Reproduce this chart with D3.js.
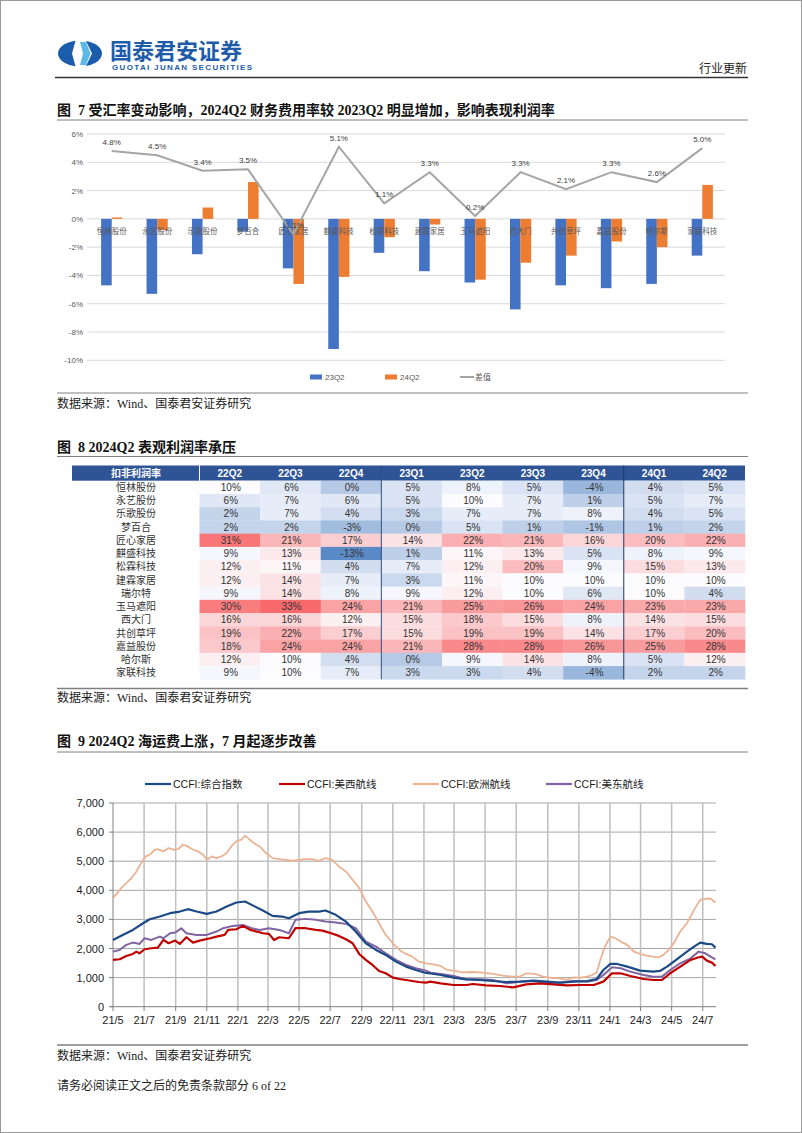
<!DOCTYPE html>
<html><head><meta charset="utf-8">
<script src="https://cdn.jsdelivr.net/npm/d3@7"></script>
<style>
body{margin:0;background:#fff;}
svg{display:block;}
</style></head><body>
<svg id="page" width="802" height="1133"></svg>
<script>
// ---------- Figure 7 data ----------
const companies7 = ["恒林股份","永艺股份","乐歌股份","梦百合","匠心家居","麒盛科技","松霖科技","建霖家居","玉马遮阳","西大门","共创草坪","嘉益股份","哈尔斯","家联科技"];
const fin23Q2 = [-4.7,-5.3,-2.5,-0.9,-3.5,-9.2,-2.4,-3.7,-4.5,-6.4,-4.7,-4.9,-4.6,-2.6];
const fin24Q2 = [0.1,-0.8,0.8,2.6,-4.6,-4.1,-1.3,-0.4,-4.3,-3.1,-2.6,-1.6,-2.0,2.4];
const finDiff = [4.8,4.5,3.4,3.5,-1.1,5.1,1.1,3.3,0.2,3.3,2.1,3.3,2.6,5.0];
const yTicks7 = [6,4,2,0,-2,-4,-6,-8,-10];
const series7 = ["23Q2","24Q2","差值"];

// ---------- Figure 8 data ----------
const companies8 = ["恒林股份","永艺股份","乐歌股份","梦百合","匠心家居","麒盛科技","松霖科技","建霖家居","瑞尔特","玉马遮阳","西大门","共创草坪","嘉益股份","哈尔斯","家联科技"];
const quarters8 = ["22Q2","22Q3","22Q4","23Q1","23Q2","23Q3","23Q4","24Q1","24Q2"];
const margins8 = [
  [10,6,0,5,8,5,-4,4,5],
  [6,7,6,5,10,7,1,5,7],
  [2,7,4,3,7,7,8,4,5],
  [2,2,-3,0,5,1,-1,1,2],
  [31,21,17,14,22,21,16,20,22],
  [9,13,-13,1,11,13,5,8,9],
  [12,11,4,7,12,20,9,15,13],
  [12,14,7,3,11,10,10,10,10],
  [9,14,8,9,12,10,6,10,4],
  [30,33,24,21,25,26,24,23,23],
  [16,16,12,15,18,15,8,14,15],
  [19,22,17,15,19,19,14,17,20],
  [18,24,24,21,28,28,26,25,28],
  [12,10,4,0,9,14,8,5,12],
  [9,10,7,3,3,4,-4,2,2]
];

// ---------- Figure 9 data (CCFI) ----------
const ccfiNames = ["CCFI:综合指数","CCFI:美西航线","CCFI:欧洲航线","CCFI:美东航线"];
const yTicks9 = [0,1000,2000,3000,4000,5000,6000,7000];
const ccfiComposite = [
["2021-05-01",2295],["2021-05-20",2467],["2021-06-09",2639],["2021-06-29",2869],["2021-07-12",3006],["2021-08-01",3098],["2021-08-21",3213],["2021-09-09",3270],["2021-09-25",3351],["2021-10-12",3270],["2021-11-01",3190],["2021-11-20",3270],["2021-12-10",3443],["2021-12-29",3580],["2022-01-15",3615],["2022-02-01",3465],["2022-02-19",3305],["2022-03-10",3121],["2022-03-29",3098],["2022-04-11",3041],["2022-05-01",3213],["2022-05-20",3270],["2022-06-09",3270],["2022-06-22",3305],["2022-07-12",3156],["2022-08-01",2926],["2022-08-20",2582],["2022-09-09",2180],["2022-09-29",1951],["2022-10-18",1779],["2022-11-07",1549],["2022-11-27",1377],["2022-12-16",1262],["2023-01-05",1160],["2023-01-14",1140],["2023-02-03",1090],["2023-02-28",998],["2023-03-25",941],["2023-04-20",918],["2023-05-16",884],["2023-06-12",849],["2023-07-08",861],["2023-08-04",895],["2023-08-30",861],["2023-09-25",826],["2023-10-21",861],["2023-11-17",884],["2023-12-06",952],["2023-12-19",1262],["2024-01-02",1469],["2024-01-15",1469],["2024-02-04",1377],["2024-02-29",1239],["2024-03-26",1205],["2024-04-08",1228],["2024-04-22",1377],["2024-05-11",1630],["2024-05-31",1893],["2024-06-14",2066],["2024-06-26",2203],["2024-07-09",2157],["2024-07-19",2146],["2024-07-26",2031]
];
const ccfiUSWest = [
["2021-05-01",1607],["2021-05-14",1630],["2021-05-27",1744],["2021-06-09",1813],["2021-06-16",1893],["2021-06-22",1836],["2021-07-02",1974],["2021-07-15",2008],["2021-07-28",2031],["2021-08-08",2295],["2021-08-18",2180],["2021-08-31",2272],["2021-09-09",2157],["2021-09-22",2387],["2021-10-05",2203],["2021-10-18",2272],["2021-11-08",2352],["2021-11-20",2410],["2021-12-06",2467],["2021-12-13",2639],["2021-12-29",2662],["2022-01-11",2777],["2022-01-25",2639],["2022-02-07",2582],["2022-02-19",2524],["2022-03-03",2502],["2022-03-13",2295],["2022-03-23",2387],["2022-04-11",2352],["2022-04-24",2697],["2022-05-14",2697],["2022-06-03",2639],["2022-06-16",2616],["2022-06-29",2547],["2022-07-18",2433],["2022-08-01",2318],["2022-08-14",2180],["2022-08-27",1813],["2022-09-09",1607],["2022-09-22",1434],["2022-10-05",1228],["2022-10-18",1148],["2022-11-01",998],["2022-11-14",952],["2022-11-27",918],["2022-12-09",884],["2022-12-22",849],["2023-01-05",826],["2023-01-14",861],["2023-02-03",803],["2023-02-28",746],["2023-03-25",746],["2023-04-07",780],["2023-05-03",734],["2023-05-30",711],["2023-06-25",666],["2023-07-21",769],["2023-08-17",803],["2023-09-12",769],["2023-10-08",734],["2023-11-04",746],["2023-11-30",746],["2023-12-19",861],["2024-01-05",1148],["2024-01-22",1148],["2024-02-10",1056],["2024-03-07",952],["2024-03-26",918],["2024-04-12",918],["2024-04-28",1148],["2024-05-18",1377],["2024-06-07",1607],["2024-06-23",1698],["2024-06-30",1721],["2024-07-09",1584],["2024-07-19",1515],["2024-07-26",1400]
];
const ccfiEurope = [
["2021-05-01",3729],["2021-05-17",4074],["2021-05-27",4246],["2021-06-06",4418],["2021-06-16",4647],["2021-06-25",4934],["2021-07-04",5164],["2021-07-12",5221],["2021-07-22",5393],["2021-07-28",5416],["2021-08-08",5336],["2021-08-18",5450],["2021-08-28",5393],["2021-09-06",5416],["2021-09-15",5565],["2021-09-25",5508],["2021-10-05",5393],["2021-10-15",5336],["2021-10-25",5221],["2021-11-01",5049],["2021-11-11",5164],["2021-11-20",5106],["2021-11-30",5164],["2021-12-10",5279],["2021-12-19",5508],["2021-12-29",5680],["2022-01-08",5738],["2022-01-15",5875],["2022-01-21",5795],["2022-02-01",5623],["2022-02-13",5508],["2022-02-25",5279],["2022-03-10",5106],["2022-03-23",5072],["2022-04-05",5049],["2022-04-18",5015],["2022-05-01",5049],["2022-05-14",5072],["2022-05-27",5072],["2022-06-09",5015],["2022-06-22",5106],["2022-07-05",5049],["2022-07-18",4820],["2022-08-01",4647],["2022-08-14",4361],["2022-08-27",4074],["2022-09-09",3615],["2022-09-22",3270],["2022-10-05",2869],["2022-10-18",2467],["2022-11-01",2180],["2022-11-14",1951],["2022-11-27",1813],["2022-12-09",1721],["2022-12-22",1549],["2023-01-05",1492],["2023-01-14",1469],["2023-02-03",1400],["2023-02-15",1262],["2023-02-28",1239],["2023-03-18",1182],["2023-04-07",1193],["2023-04-27",1170],["2023-05-16",1125],["2023-06-05",1067],["2023-06-25",1033],["2023-07-08",1033],["2023-07-21",1148],["2023-08-07",1125],["2023-08-23",1033],["2023-09-09",987],["2023-09-25",975],["2023-10-08",918],["2023-10-21",1010],["2023-11-04",998],["2023-11-17",1033],["2023-11-27",1090],["2023-12-06",1170],["2023-12-13",1607],["2023-12-22",2066],["2024-01-02",2410],["2024-01-12",2352],["2024-01-22",2238],["2024-02-04",2123],["2024-02-17",1893],["2024-02-29",1813],["2024-03-13",1756],["2024-03-26",1721],["2024-04-05",1698],["2024-04-15",1779],["2024-04-25",1951],["2024-05-05",2180],["2024-05-18",2582],["2024-05-31",2869],["2024-06-14",3328],["2024-06-26",3672],["2024-07-06",3706],["2024-07-16",3718],["2024-07-26",3580]
];
const ccfiUSEast = [
["2021-05-01",1893],["2021-05-14",1951],["2021-05-27",2123],["2021-06-09",2203],["2021-06-22",2157],["2021-07-02",2352],["2021-07-15",2295],["2021-08-01",2410],["2021-08-08",2352],["2021-08-21",2524],["2021-08-31",2547],["2021-09-12",2697],["2021-09-22",2524],["2021-10-12",2467],["2021-11-01",2467],["2021-11-20",2582],["2021-12-03",2697],["2021-12-22",2777],["2022-01-11",2811],["2022-01-28",2697],["2022-02-13",2639],["2022-03-03",2697],["2022-03-23",2639],["2022-04-11",2524],["2022-04-24",2984],["2022-05-14",3018],["2022-06-03",2984],["2022-06-22",2926],["2022-07-12",2892],["2022-08-01",2846],["2022-08-20",2697],["2022-09-09",2238],["2022-09-29",2066],["2022-10-18",1836],["2022-11-07",1607],["2022-11-27",1434],["2022-12-16",1320],["2023-01-05",1239],["2023-01-14",1170],["2023-02-03",1125],["2023-02-28",1056],["2023-03-25",941],["2023-04-20",941],["2023-05-16",918],["2023-06-12",803],["2023-07-08",861],["2023-08-04",884],["2023-08-30",826],["2023-09-25",826],["2023-10-21",884],["2023-11-17",861],["2023-12-06",918],["2023-12-19",1090],["2024-01-05",1354],["2024-01-22",1320],["2024-02-10",1205],["2024-03-07",1090],["2024-03-26",1033],["2024-04-12",1033],["2024-04-28",1262],["2024-05-18",1492],["2024-06-07",1664],["2024-06-23",1893],["2024-07-06",1836],["2024-07-19",1698],["2024-07-26",1630]
];

// ---------- drawing ----------
const svg = d3.select("#page");
const SANS = "'Liberation Sans', Arial, 'Noto Sans CJK SC', sans-serif";
const SERIF = "'Liberation Serif', 'Times New Roman', 'Noto Sans CJK SC', serif";
const BLUE = "#4472C4", ORANGE = "#ED7D31", GRAY = "#A5A5A5";

svg.append("rect").attr("width",802).attr("height",1133).attr("fill","#fff");
svg.append("rect").attr("x",0.5).attr("y",0.5).attr("width",801).attr("height",1132)
  .attr("fill","none").attr("stroke","#9a9a9a");

// header / logo
const logo = svg.append("g");
logo.append("ellipse").attr("cx",80).attr("cy",53.5).attr("rx",22).attr("ry",13).attr("fill","#1B5DAA");
logo.append("polygon").attr("points","76,39 85,39 92,53.5 85,68 76,68 72,53.5").attr("fill","#fff");
logo.append("polygon").attr("points","80,42 86,42 90.5,53.5 86,65 80,65 83,53.5").attr("fill","#5BB8E8");
svg.append("text").attr("x",110).attr("y",58.5).attr("font-size",22).attr("font-weight","bold")
  .attr("font-family","'Noto Sans CJK SC', sans-serif").attr("fill","#1E5CA9").text("国泰君安证券");
svg.append("text").attr("x",112).attr("y",70).attr("font-size",8).attr("font-weight","bold")
  .attr("font-family",SANS).attr("fill","#1E5CA9").attr("textLength",140).text("GUOTAI JUNAN SECURITIES");
svg.append("text").attr("x",747).attr("y",73).attr("text-anchor","end").attr("font-size",12)
  .attr("font-family","'Noto Sans CJK SC', sans-serif").attr("fill","#222").text("行业更新");
svg.append("line").attr("x1",55).attr("x2",748).attr("y1",77.5).attr("y2",77.5).attr("stroke","#333").attr("stroke-width",1.5);

function title(y, txt){
  svg.append("text").attr("x",57).attr("y",y).attr("font-size",14).attr("font-weight","bold")
    .attr("font-family",SERIF).attr("fill","#111").attr("xml:space","preserve").text(txt);
}
function rule(y, color, w){
  svg.append("line").attr("x1",57).attr("x2",748).attr("y1",y).attr("y2",y).attr("stroke",color||"#808080").attr("stroke-width",w||1);
}
function source(y, txt){
  svg.append("text").attr("x",57).attr("y",y).attr("font-size",12).attr("font-family",SERIF)
    .attr("fill","#222").text(txt || "数据来源：Wind、国泰君安证券研究");
}

// ---------- Figure 7 ----------
title(115, "图  7 受汇率变动影响，2024Q2 财务费用率较 2023Q2 明显增加，影响表现利润率");
rule(120);
const g7 = svg.append("g");
const x7 = d3.scaleBand().domain(companies7).range([89,725]);
const y7 = d3.scaleLinear().domain([-10,6]).range([360.3,134]);
const sub7 = d3.scaleBand().domain(series7.slice(0,2)).range([-10.6,10.6]);
g7.selectAll(".grid").data(yTicks7).join("line")
  .attr("x1",87).attr("x2",725).attr("y1",d=>y7(d)).attr("y2",d=>y7(d))
  .attr("stroke","#D9D9D9").attr("stroke-width",1);
g7.selectAll(".yl").data(yTicks7).join("text")
  .attr("x",83).attr("y",d=>y7(d)+3).attr("text-anchor","end").attr("font-size",8)
  .attr("font-family",SANS).attr("fill","#595959").text(d=>d+"%");
const barData = companies7.flatMap((c,i)=>[{c,s:"23Q2",v:fin23Q2[i]},{c,s:"24Q2",v:fin24Q2[i]}]);
g7.selectAll(".bar").data(barData).join("rect")
  .attr("x",d=>x7(d.c)+x7.bandwidth()/2+sub7(d.s))
  .attr("width",sub7.bandwidth())
  .attr("y",d=>y7(Math.max(0,d.v)))
  .attr("height",d=>Math.abs(y7(d.v)-y7(0)))
  .attr("fill",d=>d.s==="23Q2"?BLUE:ORANGE);
g7.selectAll(".cat").data(companies7).join("text")
  .attr("x",d=>x7(d)+x7.bandwidth()/2).attr("y",234).attr("text-anchor","middle")
  .attr("font-size",7.5).attr("font-family","'Noto Sans CJK SC', sans-serif").attr("fill","#595959").text(d=>d);
const line7 = d3.line().x((d,i)=>x7(companies7[i])+x7.bandwidth()/2).y(d=>y7(d));
g7.append("path").datum(finDiff).attr("d",line7).attr("fill","none").attr("stroke",GRAY).attr("stroke-width",2);
g7.selectAll(".dl").data(finDiff).join("text")
  .attr("x",(d,i)=>x7(companies7[i])+x7.bandwidth()/2).attr("y",d=>y7(d)-6).attr("text-anchor","middle")
  .attr("font-size",8).attr("font-family",SANS).attr("fill","#404040").text(d=>d.toFixed(1)+"%");
// legend
const leg7 = [{s:"23Q2",x:310,c:BLUE,t:"rect"},{s:"24Q2",x:385,c:ORANGE,t:"rect"},{s:"差值",x:460,c:GRAY,t:"line"}];
leg7.forEach(l=>{
  if(l.t==="rect") g7.append("rect").attr("x",l.x).attr("y",374.5).attr("width",12).attr("height",5).attr("fill",l.c);
  else g7.append("line").attr("x1",l.x).attr("x2",l.x+14).attr("y1",377).attr("y2",377).attr("stroke",l.c).attr("stroke-width",2);
  g7.append("text").attr("x",l.x+15).attr("y",380).attr("font-size",8).attr("font-family",SANS).attr("fill","#595959").text(l.s);
});
rule(393);
source(408);

// ---------- Figure 8 ----------
title(452, "图  8 2024Q2 表观利润率承压");
rule(456.5);
const g8 = svg.append("g");
const colX = d3.scaleBand().domain(quarters8).range([199.5,745]);
const rowY = d3.scaleBand().domain(companies8).range([480.7,679.3]);
const allVals = margins8.flat();
const color8 = d3.scaleLinear()
  .domain([d3.min(allVals), d3.median(allVals), d3.max(allVals)])
  .range(["#5A8AC6","#FCFCFF","#F8696B"]);
const HEAD = "#2F5496";
g8.append("rect").attr("x",72).attr("y",465.5).attr("width",673).attr("height",15.2).attr("fill",HEAD);
g8.append("text").attr("x",136).attr("y",477).attr("text-anchor","middle").attr("font-size",10).attr("font-weight","bold")
  .attr("font-family",SANS).attr("fill","#fff").text("扣非利润率");
g8.selectAll(".hq").data(quarters8).join("text")
  .attr("x",d=>colX(d)+colX.bandwidth()/2).attr("y",477).attr("text-anchor","middle").attr("font-size",10).attr("font-weight","bold")
  .attr("font-family",SANS).attr("fill","#fff").text(d=>d);
g8.append("line").attr("x1",199.5).attr("x2",199.5).attr("y1",465.5).attr("y2",480.7).attr("stroke","#fff").attr("stroke-width",1);
const cells = [];
margins8.forEach((row,ri)=>row.forEach((v,ci)=>cells.push({r:companies8[ri],q:quarters8[ci],v})));
g8.selectAll(".cell").data(cells).join("rect")
  .attr("x",d=>colX(d.q)).attr("y",d=>rowY(d.r)).attr("width",colX.bandwidth()+0.3).attr("height",rowY.bandwidth()+0.3)
  .attr("fill",d=>color8(d.v));
g8.selectAll(".cv").data(cells).join("text")
  .attr("x",d=>colX(d.q)+colX.bandwidth()/2+1).attr("y",d=>rowY(d.r)+rowY.bandwidth()/2+3.6)
  .attr("text-anchor","middle").attr("font-size",10).attr("font-family",SANS).attr("fill","#333").text(d=>d.v+"%");
g8.selectAll(".rn").data(companies8).join("text")
  .attr("x",136).attr("y",d=>rowY(d)+rowY.bandwidth()/2+3.6).attr("text-anchor","middle")
  .attr("font-size",10).attr("font-family","'Noto Sans CJK SC', sans-serif").attr("fill","#333").text(d=>d);
["23Q1","24Q1"].forEach(q=>{
  g8.append("line").attr("x1",colX(q)).attr("x2",colX(q)).attr("y1",465.5).attr("y2",679.3)
    .attr("stroke",q==="23Q1"?"#2F4F7F":"#1F3864").attr("stroke-width",1);
});
rule(688.5, "#7f7f7f", 1.5);
source(702);

// ---------- Figure 9 ----------
title(746, "图  9 2024Q2 海运费上涨，7 月起逐步改善");
rule(752);
const g9 = svg.append("g");
const parse = d3.timeParse("%Y-%m-%d");
const x9 = d3.scaleTime().domain([new Date(2021,4,1), new Date(2024,6,27)]).range([113,716]);
const y9 = d3.scaleLinear().domain([0,7000]).range([1006.7,803]);
const ticks9 = x9.ticks(d3.timeMonth.every(2));
g9.selectAll(".hg").data(yTicks9.slice(1)).join("line")
  .attr("x1",113).attr("x2",716).attr("y1",d=>y9(d)).attr("y2",d=>y9(d)).attr("stroke","#A6A6A6").attr("stroke-width",1);
g9.selectAll(".vg").data(ticks9.filter(t=>+t>+x9.domain()[0])).join("line")
  .attr("x1",d=>x9(d)).attr("x2",d=>x9(d)).attr("y1",803).attr("y2",1006.7).attr("stroke","#BFBFBF").attr("stroke-width",1.5);
g9.append("line").attr("x1",113).attr("x2",113).attr("y1",803).attr("y2",1007).attr("stroke","#808080");
g9.append("line").attr("x1",110).attr("x2",716).attr("y1",1006.7).attr("y2",1006.7).attr("stroke","#808080");
g9.selectAll(".yt").data(yTicks9).join("line")
  .attr("x1",109).attr("x2",113).attr("y1",d=>y9(d)).attr("y2",d=>y9(d)).attr("stroke","#808080");
g9.selectAll(".xt").data(ticks9).join("line")
  .attr("x1",d=>x9(d)).attr("x2",d=>x9(d)).attr("y1",1006.7).attr("y2",1011).attr("stroke","#808080");
g9.selectAll(".yl").data(yTicks9).join("text")
  .attr("x",104).attr("y",d=>y9(d)+4).attr("text-anchor","end").attr("font-size",11)
  .attr("font-family",SANS).attr("fill","#222").text(d=>d3.format(",")(d));
g9.selectAll(".xl").data(ticks9).join("text")
  .attr("x",d=>x9(d)).attr("y",1024).attr("text-anchor","middle").attr("font-size",11)
  .attr("font-family",SANS).attr("fill","#222").text(d=>d3.timeFormat("%y/%-m")(d));
const seriesList = [
  {name:ccfiNames[2], data:ccfiEurope, color:"#EBB394", w:1.8},
  {name:ccfiNames[3], data:ccfiUSEast, color:"#8064A2", w:2},
  {name:ccfiNames[1], data:ccfiUSWest, color:"#C00000", w:2.2},
  {name:ccfiNames[0], data:ccfiComposite, color:"#1B4A86", w:2.2}
];
const line9 = d3.line().x(d=>x9(parse(d[0]))).y(d=>y9(d[1]));
seriesList.forEach(s=>{
  g9.append("path").datum(s.data).attr("d",line9).attr("fill","none").attr("stroke",s.color)
    .attr("stroke-width",s.w).attr("stroke-linejoin","round");
});
const legX = [145,279,413,546];
ccfiNames.forEach((n,i)=>{
  const s = seriesList.find(d=>d.name===n);
  g9.append("line").attr("x1",legX[i]).attr("x2",legX[i]+26).attr("y1",784).attr("y2",784).attr("stroke",s.color).attr("stroke-width",2.2);
  g9.append("text").attr("x",legX[i]+28).attr("y",788).attr("font-size",10.5).attr("font-family",SANS).attr("fill","#222").text(n);
});
rule(1045, "#7f7f7f", 1.5);
source(1060);
source(1090, "请务必阅读正文之后的免责条款部分 6 of 22");
</script>
</body></html>
